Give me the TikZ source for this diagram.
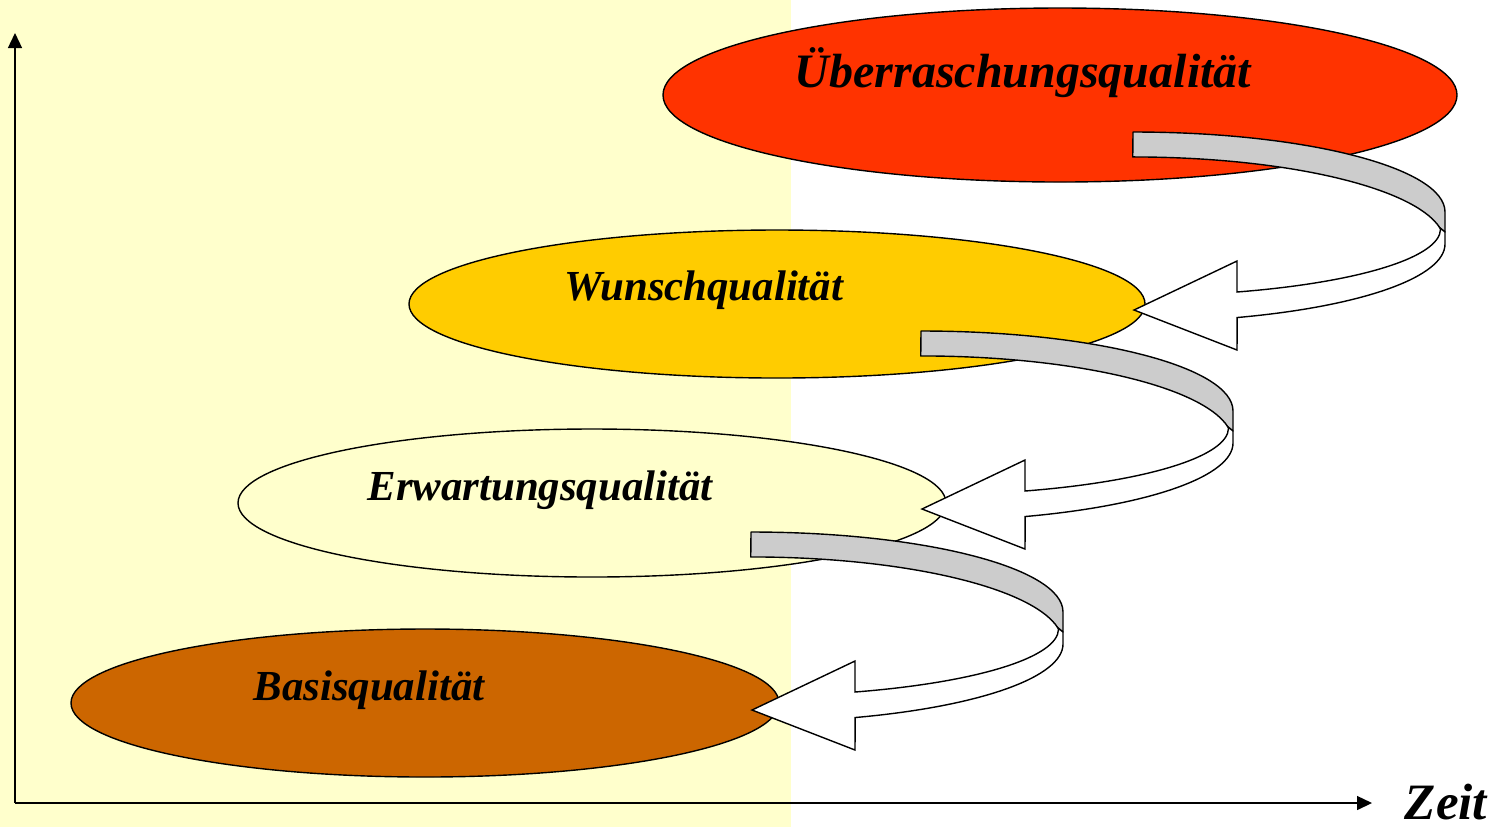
\documentclass[tikz,border=0pt]{standalone}
\usepackage{fontspec}
\setmainfont{Liberation Serif}
\usetikzlibrary{shapes.geometric,arrows.meta}
\definecolor{bgyellow}{HTML}{FFFFCC}
\definecolor{qred}{HTML}{FF3300}
\definecolor{qgold}{HTML}{FFCC00}
\definecolor{qpale}{HTML}{FFFFCC}
\definecolor{qbrown}{HTML}{CC6600}
\definecolor{ribbongray}{HTML}{CCCCCC}
\tikzset{
  level/.style={ellipse, draw=black, line width=0.7pt, inner sep=0pt},
  qlabel/.style={anchor=base, inner sep=0pt,
    font=\fontsize{21.4}{26}\selectfont\bfseries\itshape},
  axis/.style={line width=0.7pt, -{Triangle[length=7.5pt,width=7pt]}},
  ribbonback/.style={fill=ribbongray, draw=black, line width=0.7pt, line join=round},
  ribbonfront/.style={fill=white, draw=black, line width=0.7pt, line join=miter},
  % curved 3D arrow: back face (grey) runs out to the right, front face (white) returns with the head
  ribbon/.pic={
    \filldraw[ribbonback] (0,0)
      arc[start angle=-90, end angle=0, x radius=312, y radius=80]
      -- (312,100) -- (307,96)
      arc[start angle=-10, end angle=-90, x radius=312, y radius=86] -- cycle;
    \filldraw[ribbonfront] (307,96) -- (312,100) -- (312,112)
      arc[start angle=0, end angle=70.5, x radius=312, y radius=78]
      -- (104,218) -- (1,178) -- (104,129) -- (104,160)
      arc[start angle=70.3, end angle=0, x radius=307, y radius=67] -- cycle;
  }
}
\begin{document}
\begin{tikzpicture}[x=0.5pt, y=-0.5pt]
  % page and the shaded left half
  \useasboundingbox (0,0) rectangle (1502,827);
  \fill[white] (0,0) rectangle (1502,827);
  \fill[bgyellow] (0,0) rectangle (791,827);

  % axes
  \coordinate (O) at (15,803);
  \coordinate (ytop) at (15,33);
  \coordinate (xend) at (1372,803);
  \draw[axis] (O) -- (ytop);
  \draw[axis] (O) -- (xend);
  \node[qlabel, font=\fontsize{25.5}{30}\selectfont\bfseries\itshape] (zeit) at (1446,819) {Zeit};

  % quality levels
  \node[level, fill=qred,   minimum width=397pt, minimum height=87pt] (ueb)  at (1060,95)  {};
  \node[level, fill=qgold,  minimum width=368pt, minimum height=74pt] (wun)  at (777,304)  {};
  \node[level, fill=qpale,  minimum width=354pt, minimum height=74pt] (erw)  at (592,503)  {};
  \node[level, fill=qbrown, minimum width=354pt, minimum height=74pt] (bas)  at (425,703)  {};

  \node[qlabel, font=\fontsize{24}{29}\selectfont\bfseries\itshape] (tueb) at (1023,87)  {Überraschungsqualität};
  \node[qlabel] (twun) at (704,300)  {Wunschqualität};
  \node[qlabel] (terw) at (540,500)  {Erwartungsqualität};
  \node[qlabel] (tbas) at (369,700)  {Basisqualität};

  % curved arrows stepping down from one level to the next
  \coordinate (r1) at (1133,132);
  \coordinate (r2) at (921,331);
  \coordinate (r3) at (751,532);
  \pic at (r1) {ribbon};
  \pic at (r2) {ribbon};
  \pic at (r3) {ribbon};
\end{tikzpicture}
\end{document}
